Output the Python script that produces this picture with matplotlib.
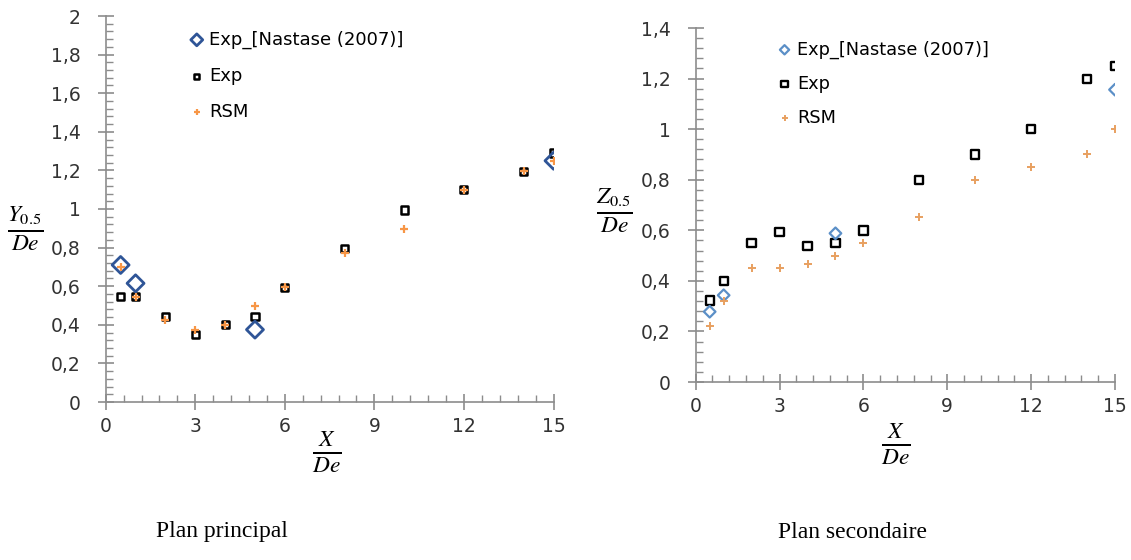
import numpy as np
import matplotlib
matplotlib.use('Agg')
import matplotlib.pyplot as plt
from matplotlib.ticker import MultipleLocator, FuncFormatter

plt.rcParams['font.family'] = ['DejaVu Sans']
plt.rcParams['mathtext.fontset'] = 'stix'

# Plan principal (Y0.5 / De)
x_nast_p = [0.5, 1, 5, 15]
y_nast_p = [0.71, 0.615, 0.375, 1.25]
x_exp = [0.5, 1, 2, 3, 4, 5, 6, 8, 10, 12, 14, 15]
y_exp_p = [0.545, 0.545, 0.445, 0.35, 0.40, 0.445, 0.595, 0.795, 0.995, 1.10, 1.195, 1.29]
y_rsm_p = [0.70, 0.545, 0.425, 0.375, 0.40, 0.50, 0.595, 0.77, 0.895, 1.10, 1.195, 1.25]

# Plan secondaire (Z0.5 / De)
x_nast_s = [0.5, 1, 5, 15]
y_nast_s = [0.278, 0.343, 0.588, 1.156]
y_exp_s = [0.322, 0.398, 0.55, 0.593, 0.539, 0.55, 0.599, 0.80, 0.90, 1.00, 1.198, 1.251]
y_rsm_s = [0.22, 0.322, 0.451, 0.451, 0.468, 0.50, 0.55, 0.651, 0.80, 0.852, 0.90, 1.00]

labels = ['Exp_[Nastase (2007)]', 'Exp', 'RSM']
captions = ['Plan principal', 'Plan secondaire']

W, H = 1131, 560
fig = plt.figure(figsize=(W / 100, H / 100), dpi=100)
ax1 = fig.add_axes([105.7 / W, 1 - 402 / H, 447.8 / W, 386 / H])
ax2 = fig.add_axes([695.7 / W, 1 - 382 / H, 419.3 / W, 354 / H])

comma = FuncFormatter(lambda v, p: ('%g' % round(v, 2)).replace('.', ','))


def style_axes(ax, ymax):
    ax.set_xlim(0, 15)
    ax.set_ylim(0, ymax)
    for s in ['top', 'right']:
        ax.spines[s].set_visible(False)
    for s in ['left', 'bottom']:
        ax.spines[s].set_color('#8c8c8c')
        ax.spines[s].set_linewidth(1.2)
    ax.xaxis.set_major_locator(MultipleLocator(3))
    ax.xaxis.set_minor_locator(MultipleLocator(0.6))
    ax.yaxis.set_major_locator(MultipleLocator(0.2))
    ax.yaxis.set_minor_locator(MultipleLocator(0.04))
    ax.yaxis.set_major_formatter(comma)
    ax.tick_params(which='major', direction='inout', length=12, width=1.2,
                   color='#8c8c8c', labelsize=13.5, labelcolor='#333333')
    ax.tick_params(axis='y', which='major', pad=12)
    ax.tick_params(axis='x', which='major', pad=5)
    ax.tick_params(which='minor', direction='in', length=5, width=1,
                   color='#8c8c8c')


# left panel
ax1.scatter(x_nast_p, y_nast_p, marker='D', s=75, facecolors='none',
            edgecolors='#2f5597', linewidths=2, label=labels[0], zorder=3)
ax1.scatter(x_exp, y_exp_p, marker='s', s=26, facecolors='none',
            edgecolors='black', linewidths=1.8, label=labels[1], zorder=2)
ax1.scatter(x_exp, y_rsm_p, marker='+', s=40, color='#f79646',
            linewidths=1.6, label=labels[2], zorder=4)
style_axes(ax1, 2)
ax1.legend(loc='upper left', bbox_to_anchor=(0.155, 0.995), frameon=False,
           fontsize=13, handletextpad=0.2, handlelength=1.0, labelspacing=1.0,
           markerscale=0.7, borderaxespad=0.3)

# right panel
ax2.scatter(x_nast_s, y_nast_s, marker='D', s=35, facecolors='none',
            edgecolors='#5b8fc7', linewidths=1.6, label=labels[0], zorder=3)
ax2.scatter(x_exp, y_exp_s, marker='s', s=35, facecolors='none',
            edgecolors='black', linewidths=1.7, label=labels[1], zorder=2)
ax2.scatter(x_exp, y_rsm_s, marker='+', s=35, color='#e8a060',
            linewidths=1.4, label=labels[2], zorder=4)
style_axes(ax2, 1.4)
ax2.legend(loc='upper left', bbox_to_anchor=(0.161, 1.0), frameon=False,
           fontsize=12.8, handletextpad=0.2, handlelength=1.0, labelspacing=0.9,
           markerscale=0.8, borderaxespad=0.3)

# axis labels as fractions
fig.text(25 / W, 1 - 229 / H, r'$\frac{Y_{0.5}}{De}$', fontsize=24,
         ha='center', va='center')
fig.text(327 / W, 1 - 452 / H, r'$\frac{X}{De}$', fontsize=24,
         ha='center', va='center')
fig.text(614 / W, 1 - 211 / H, r'$\frac{Z_{0.5}}{De}$', fontsize=24,
         ha='center', va='center')
fig.text(896 / W, 1 - 444 / H, r'$\frac{X}{De}$', fontsize=24,
         ha='center', va='center')

fig.text(222 / W, 1 - 532 / H, captions[0], fontsize=17,
         family='Liberation Serif', ha='center', va='center')
fig.text(853 / W, 1 - 532 / H, captions[1], fontsize=17,
         family='Liberation Serif', ha='center', va='center')

fig.savefig('out.png', dpi=100)
